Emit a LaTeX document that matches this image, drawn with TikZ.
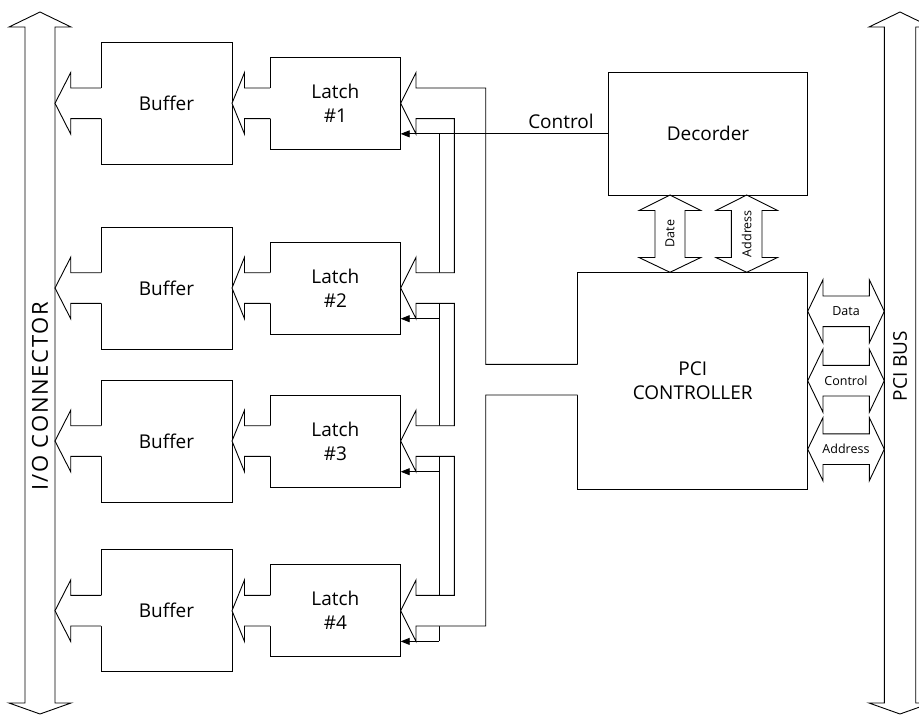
\documentclass[tikz,border=0pt]{standalone}
\usepackage{fontspec}
\setmainfont{Open Sans}
\usetikzlibrary{arrows.meta}
\newcommand\leftblock[4]{% #1 tip x, #2 centre y, #3 wing x, #4 tail x
  \fill[white] (#4+1.2,#2-15.3) -- (#3,#2-15.3) -- (#3,#2-30.7) -- (#1,#2) -- (#3,#2+30.7) -- (#3,#2+15.3) -- (#4+1.2,#2+15.3) -- cycle;
  \draw (#4,#2-15.3) -- (#3,#2-15.3) -- (#3,#2-30.7) -- (#1,#2) -- (#3,#2+30.7) -- (#3,#2+15.3) -- (#4,#2+15.3);
}
\begin{document}
\begin{tikzpicture}[x=1pt,y=-1pt, line width=0.9pt, line join=miter,
  box/.style={draw, inner sep=0pt, outer sep=0pt, align=center},
  big/.style={font=\fontsize{19}{24}\selectfont},
  small/.style={font=\fontsize{12.5}{15}\selectfont},
  tip/.style={-{Triangle[length=9pt,width=7pt]}},
]
\useasboundingbox (0,0) rectangle (919,715);

% I/O connector and PCI bus
\draw (25,27) -- (9,27) -- (40,12) -- (71,27) -- (55,27) -- (55,703) -- (71,703) -- (40,714) -- (9,703) -- (25,703) -- cycle;
\draw (884.3,27) -- (869,27) -- (900,12) -- (931,27) -- (915.7,27) -- (915.7,703) -- (931,703) -- (900,714) -- (869,703) -- (884.3,703) -- cycle;
\node[font=\fontsize{22}{24}\selectfont\addfontfeature{LetterSpace=8}, rotate=90] (io) at (40,396) {I/O CONNECTOR};
\node[big, rotate=90] (pcibus) at (900,366) {PCI BUS};

% decoder and controller
\node[box, big, minimum width=199.4pt, minimum height=122.3pt] (dec) at (708,133.85) {Decorder};
\node[box, big, minimum width=230pt, minimum height=216.7pt] (pci) at (692.7,380.65) {PCI\\CONTROLLER};

% rows
\foreach \i/\c in {1/103.3, 2/288, 3/441, 4/610.7} {
  \node[box, big, minimum width=131pt, minimum height=122pt] (buf\i) at (166.5,\c) {Buffer};
  \node[box, big, minimum width=130.7pt, minimum height=92pt] (lat\i) at (335.35,\c) {Latch\\\#\i};
  \leftblock{55}{\c}{70.7}{101}
  \leftblock{232}{\c}{244.5}{270}
}

% control lines to latches
\draw (439.3,134) -- (439.3,641.4);
\foreach \i/\c in {2/288, 3/441, 4/610.7} {
  \draw[tip] (439.3,\c+30.7) -- (lat\i.east |- 0,\c+30.7);
}

% data bus from controller to latches
\fill[white] (578.9,364.3) -- (485.7,364.3) -- (485.7,88) -- (416,88) -- (416,72.6) -- (400.7,103.3) -- (416,134) -- (416,118.6) -- (454.3,118.6)
  -- (454.3,272.7) -- (416,272.7) -- (416,257.3) -- (400.7,288) -- (416,318.7) -- (416,303.3) -- (454.3,303.3)
  -- (454.3,425.7) -- (416,425.7) -- (416,410.3) -- (400.7,441) -- (416,471.7) -- (416,456.3) -- (454.3,456.3)
  -- (454.3,595.4) -- (416,595.4) -- (416,580) -- (400.7,610.7) -- (416,641.4) -- (416,626) -- (485.7,626)
  -- (485.7,395) -- (578.9,395) -- cycle;
\draw (pci.west |- 0,364.3) -- (485.7,364.3) -- (485.7,88) -- (416,88) -- (416,72.6) -- (lat1.east) -- (416,134) -- (416,118.6) -- (454.3,118.6)
  -- (454.3,272.7) -- (416,272.7) -- (416,257.3) -- (lat2.east) -- (416,318.7) -- (416,303.3) -- (454.3,303.3)
  -- (454.3,425.7) -- (416,425.7) -- (416,410.3) -- (lat3.east) -- (416,471.7) -- (416,456.3) -- (454.3,456.3)
  -- (454.3,595.4) -- (416,595.4) -- (416,580) -- (lat4.east) -- (416,641.4) -- (416,626) -- (485.7,626)
  -- (485.7,395) -- (pci.west |- 0,395);

% control line from decoder
\draw[tip] (dec.west) -- (lat1.east |- dec.west);
\node[big, anchor=base] (ctl) at (561,128.3) {Control};

% Date / Address between decoder and controller
\draw (655,210.5) -- (639,210.5) -- (670,195) -- (700.8,210.5) -- (685,210.5) -- (685,257.5) -- (700.8,257.5) -- (670,272.3) -- (639,257.5) -- (655,257.5) -- cycle;
\draw (731.4,210.5) -- (715.9,210.5) -- (746.7,195) -- (777.5,210.5) -- (762,210.5) -- (762,257.5) -- (777.5,257.5) -- (746.7,272.3) -- (715.9,257.5) -- (731.4,257.5) -- cycle;
\node[small, rotate=90] (date) at (670,233.7) {Date};
\node[small, rotate=90] (addr) at (746.7,233.7) {Address};

% Data / Control / Address to PCI bus
\foreach \n/\c/\t in {d/311.3/Data, c/380.7/Control, a/449.2/Address} {
  \draw (823,\c-15.3) -- (823,\c-31.6) -- (807.7,\c) -- (823,\c+31.6) -- (823,\c+15.3) -- (869.3,\c+15.3) -- (869.3,\c+31.6) -- (884.3,\c) -- (869.3,\c-31.6) -- (869.3,\c-15.3) -- cycle;
  \node[small] (r\n) at (846,\c) {\t};
}
\end{tikzpicture}
\end{document}
